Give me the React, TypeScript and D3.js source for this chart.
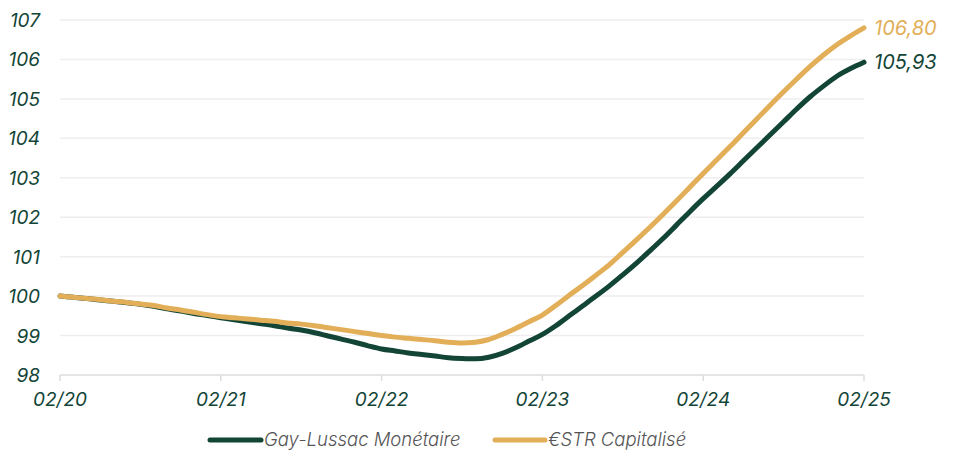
import React from "react";
import * as d3 from "d3";

const months: number[] = d3.range(0, 61);
const gayLussac: number[] = [
  100, 99.97, 99.94, 99.9, 99.87, 99.83, 99.79, 99.74, 99.68, 99.62, 99.56, 99.51, 99.45,
  99.4, 99.35, 99.3, 99.25, 99.19, 99.14, 99.07, 98.99, 98.91, 98.83, 98.74, 98.66,
  98.61, 98.56, 98.52, 98.48, 98.44, 98.42, 98.41, 98.45, 98.55, 98.69, 98.86, 99.03,
  99.25, 99.5, 99.75, 100.0, 100.26, 100.54, 100.83, 101.14, 101.46, 101.8, 102.14,
  102.47, 102.78, 103.1, 103.43, 103.76, 104.09, 104.42, 104.75, 105.06, 105.33, 105.58,
  105.77, 105.93,
];
const estr: number[] = [
  100, 99.97, 99.94, 99.91, 99.87, 99.84, 99.8, 99.76, 99.7, 99.65, 99.59, 99.53, 99.48,
  99.45, 99.42, 99.39, 99.36, 99.32, 99.29, 99.25, 99.2, 99.15, 99.1, 99.05, 99.0,
  98.96, 98.93, 98.9, 98.87, 98.83, 98.81, 98.83, 98.9, 99.03, 99.18, 99.35, 99.52,
  99.76, 100.02, 100.27, 100.53, 100.8, 101.11, 101.42, 101.74, 102.07, 102.41, 102.76,
  103.11, 103.45, 103.79, 104.14, 104.49, 104.84, 105.18, 105.51, 105.83, 106.12, 106.38,
  106.6, 106.8,
];
const yTicks: number[] = [98, 99, 100, 101, 102, 103, 104, 105, 106, 107];
const xTickLabels: string[] = ["02/20", "02/21", "02/22", "02/23", "02/24", "02/25"];
const seriesNames: string[] = ["Gay-Lussac Monétaire", "€STR Capitalisé"];
const endLabels: string[] = ["105,93", "106,80"];

const GREEN = "#134537";
const GOLD = "#E2AE58";
const FONT = "Inter, 'Noto Sans', sans-serif";

export default function App() {
  const W = 957;
  const H = 453;
  const x = d3.scaleLinear().domain([0, 60]).range([60, 864]);
  const y = d3.scaleLinear().domain([98, 107]).range([375, 20]);
  const line = d3
    .line<number>()
    .x((_, i) => x(months[i]))
    .y((d) => y(d))
    .curve(d3.curveMonotoneX);

  return (
    <svg
      width={W}
      height={H}
      style={{ position: "absolute", left: 0, top: 0 }}
      fontFamily={FONT}
    >
      {yTicks.slice(1).map((t) => (
        <line key={t} x1={60} x2={864} y1={y(t)} y2={y(t)} stroke="#eeeeee" strokeWidth={1.5} />
      ))}
      <line x1={60} x2={864} y1={y(98)} y2={y(98)} stroke="#dddddd" strokeWidth={1.5} />
      {xTickLabels.map((l, i) => (
        <g key={l}>
          <line x1={x(i * 12)} x2={x(i * 12)} y1={y(98)} y2={y(98) + 6} stroke="#dddddd" strokeWidth={1.5} />
          <text
            x={x(i * 12)}
            y={406}
            textAnchor="middle"
            fontSize={19}
            fontStyle="italic"
            fill={GREEN}
          >
            {l}
          </text>
        </g>
      ))}
      {yTicks.map((t) => (
        <text
          key={t}
          x={40}
          y={y(t) + 7}
          textAnchor="end"
          fontSize={19}
          fontStyle="italic"
          fill={GREEN}
        >
          {t}
        </text>
      ))}
      <path d={line(gayLussac) ?? ""} fill="none" stroke={GREEN} strokeWidth={5} strokeLinecap="round" strokeLinejoin="round" />
      <path d={line(estr) ?? ""} fill="none" stroke={GOLD} strokeWidth={5} strokeLinecap="round" strokeLinejoin="round" />
      <text x={874} y={y(estr[60]) + 7} fontSize={20} fontStyle="italic" fill={GOLD}>
        {endLabels[1]}
      </text>
      <text x={874} y={y(gayLussac[60]) + 7} fontSize={20} fontStyle="italic" fill={GREEN}>
        {endLabels[0]}
      </text>
      {/* legend */}
      <line x1={210} x2={261} y1={440} y2={440} stroke={GREEN} strokeWidth={5} strokeLinecap="round" />
      <text x={264} y={446} fontSize={18.5} fontStyle="italic" fontWeight={300} fill="#555555">
        {seriesNames[0]}
      </text>
      <line x1={495} x2={545} y1={440} y2={440} stroke={GOLD} strokeWidth={5} strokeLinecap="round" />
      <text x={548} y={446} fontSize={18.5} fontStyle="italic" fontWeight={300} fill="#555555">
        {seriesNames[1]}
      </text>
    </svg>
  );
}
